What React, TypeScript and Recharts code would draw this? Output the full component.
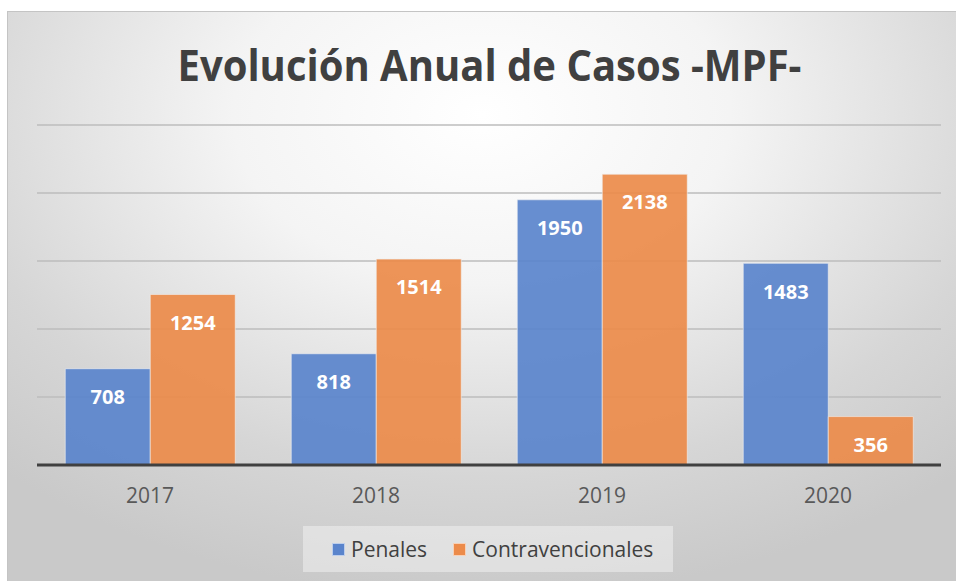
import React from 'react';
import { BarChart, Bar, XAxis, YAxis, CartesianGrid, LabelList } from 'recharts';

const years = ['2017', '2018', '2019', '2020'];
const penales = [708, 818, 1950, 1483];
const contravencionales = [1254, 1514, 2138, 356];
const yTicks = [0, 500, 1000, 1500, 2000, 2500];

const series = [
  { key: 'penales', name: 'Penales', color: '#5a84cc' },
  { key: 'contravencionales', name: 'Contravencionales', color: '#ec8b4a' },
];

const data = years.map((year, i) => ({
  year,
  penales: penales[i],
  contravencionales: contravencionales[i],
}));

const FONT = '"Open Sans", "DejaVu Sans", sans-serif';

export default function App() {
  return (
    <div
      style={{
        position: 'absolute',
        left: 7,
        top: 11,
        width: 949,
        height: 570,
        fontFamily: FONT,
        background:
          'radial-gradient(ellipse 75% 85% at 50% 18%, #ffffff 0%, #f4f4f4 35%, #d6d6d6 75%, #c9c9c9 100%)',
        borderTop: '1px solid #c4c4c4',
        borderLeft: '1px solid #c4c4c4',
        boxSizing: 'border-box',
      }}
    >
      <div
        style={{
          position: 'absolute',
          left: 7,
          width: 949,
          top: 33,
          textAlign: 'center',
          fontSize: 40,
          lineHeight: '40px',
          fontWeight: 700,
          color: '#404040',
          transform: 'scaleY(1.08)',
        }}
      >
        Evolución Anual de Casos -MPF-
      </div>

      <BarChart
        width={949}
        height={570}
        data={data}
        margin={{ top: 113, right: 16, bottom: 77, left: 29 }}
        barCategoryGap="12.5%"
        barGap={0}
      >
        <CartesianGrid vertical={false} stroke="#bdbdbd" strokeWidth={1.5} />
        <XAxis
          dataKey="year"
          tickLine={false}
          tickSize={0}
          tickMargin={23}
          height={40}
          axisLine={{ stroke: '#404040', strokeWidth: 3 }}
          tick={{ fill: '#595959', fontSize: 21, fontFamily: FONT }}
        />
        <YAxis hide domain={[0, 2500]} ticks={yTicks} />
        {series.map((s) => (
          <Bar
            key={s.key}
            dataKey={s.key}
            name={s.name}
            fill={s.color}
            fillOpacity={0.92}
            stroke="#f2f2f2"
            strokeOpacity={0.6}
            strokeWidth={1}
            isAnimationActive={false}
          >
            <LabelList
              dataKey={s.key}
              position="insideTop"
              offset={21}
              fill="#ffffff"
              style={{ fontSize: 20, fontWeight: 700, fontFamily: FONT }}
            />
          </Bar>
        ))}
      </BarChart>

      <div
        style={{
          position: 'absolute',
          left: 295,
          top: 514,
          width: 370,
          height: 46,
          background: 'rgba(240,240,240,0.55)',
          display: 'flex',
          alignItems: 'center',
          paddingLeft: 29,
          boxSizing: 'border-box',
          fontSize: 21,
          color: '#404040',
        }}
      >
        {series.map((s) => (
          <div key={s.key} style={{ display: 'flex', alignItems: 'center', marginRight: 26 }}>
            <span
              style={{
                display: 'inline-block',
                width: 13,
                height: 13,
                background: s.color,
                border: '1px solid rgba(255,255,255,0.6)',
                boxSizing: 'border-box',
                marginRight: 6,
              }}
            />
            <span>{s.name}</span>
          </div>
        ))}
      </div>
    </div>
  );
}
